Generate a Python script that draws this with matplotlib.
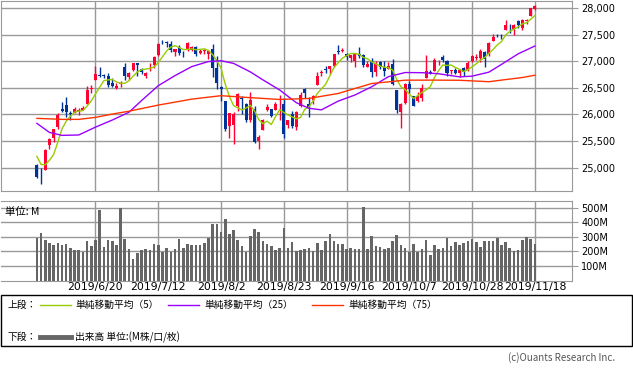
import numpy as np
import pandas as pd
import matplotlib
matplotlib.use('Agg')
import matplotlib.pyplot as plt
from matplotlib.lines import Line2D
from matplotlib.patches import Rectangle
from matplotlib.ticker import FuncFormatter

plt.rcParams['font.family'] = ['DejaVu Sans']
JP = ['Noto Sans CJK JP', 'DejaVu Sans']

# daily bars 2019/5/31 - 2019/11/18
opens = [25040, 24830, 24955, 25430, 25550, 25760, 26100, 26170, 26030, 26030,
         26060, 26090, 26200, 26470, 26650, 26740, 26730, 26730, 26600, 26500,
         26580, 26890, 26710, 26830, 26960, 26850, 26720, 26850, 26925, 27110,
         27360, 27360, 27330, 27180, 27250, 27180, 27210, 27220, 27270, 27160,
         27190, 27130, 27240, 26870, 26510, 26250, 25780, 25800, 26150, 26300,
         26200, 25900, 26100, 25500, 25700, 26080, 26100, 26090, 26250, 26200,
         25800, 26000, 25760, 26150, 26470, 26200, 26270, 26560, 26770, 26850,
         26850, 26910, 27200, 27200, 27140, 27070, 27000, 27140, 27110, 26900,
         27000, 26800, 26980, 26900, 26850, 26940, 26450, 26050, 26210, 26570,
         26350, 26260, 26300, 26680, 26800, 26820, 27000, 27080, 27000, 26820,
         26840, 26780, 26880, 26840, 27000, 27060, 27060, 27175, 27140, 27380,
         27500, 27500, 27580, 27690, 27600, 27760, 27620, 27760, 27850, 27980]
highs = [25060, 24990, 25340, 25560, 25730, 26020, 26240, 26320, 26060, 26140,
         26120, 26160, 26540, 26560, 26907, 26900, 26760, 26780, 26690, 26600,
         26620, 26970, 26790, 26970, 26970, 26880, 26800, 26960, 27100, 27340,
         27400, 27380, 27380, 27240, 27300, 27200, 27360, 27290, 27280, 27230,
         27230, 27210, 27320, 27100, 26530, 26250, 26030, 26040, 26400, 26340,
         26220, 26420, 26160, 25620, 25920, 26190, 26110, 26240, 26360, 26310,
         25900, 26060, 26070, 26420, 26500, 26330, 26360, 26800, 26830, 26920,
         26920, 27140, 27300, 27250, 27150, 27120, 27150, 27270, 27140, 27000,
         27070, 27000, 27010, 27000, 26990, 27050, 26460, 26210, 26600, 26620,
         26350, 26420, 26570, 27120, 26840, 27070, 27020, 27120, 27020, 26840,
         26880, 26840, 26900, 27000, 27120, 27130, 27230, 27190, 27370, 27510,
         27520, 27510, 27780, 27700, 27700, 27780, 27800, 27790, 28010, 28060]
lows = [24800, 24680, 24955, 25340, 25480, 25730, 26040, 25960, 25900, 26020,
        25980, 26080, 26190, 26400, 26640, 26700, 26690, 26520, 26520, 26480,
        26520, 26650, 26640, 26820, 26730, 26760, 26690, 26820, 26880, 27100,
        27330, 27270, 27180, 27100, 27120, 27080, 27200, 27200, 27100, 27130,
        27130, 27040, 26700, 26480, 26250, 25680, 25560, 25440, 26070, 26000,
        25850, 25850, 25460, 25340, 25700, 26060, 25950, 26080, 25900, 25550,
        25750, 25740, 25700, 26130, 26300, 25960, 26200, 26550, 26730, 26780,
        26760, 26900, 27140, 27170, 27020, 26990, 26900, 27060, 26900, 26900,
        26700, 26720, 26850, 26720, 26850, 26560, 26030, 25740, 26200, 26410,
        26150, 26240, 26260, 26680, 26760, 26820, 26930, 26980, 26720, 26760,
        26760, 26700, 26720, 26820, 26990, 27020, 26990, 26900, 27100, 27380,
        27460, 27410, 27580, 27540, 27500, 27630, 27590, 27700, 27850, 27960]
closes = [24815, 24819, 25332, 25540, 25720, 25984, 26062, 26048, 26004, 26107,
          26090, 26112, 26466, 26504, 26753, 26719, 26727, 26548, 26536, 26526,
          26600, 26717, 26787, 26966, 26922, 26806, 26783, 26860, 27088, 27332,
          27359, 27335, 27219, 27223, 27154, 27172, 27349, 27270, 27140, 27192,
          27221, 27198, 26864, 26583, 26485, 25718, 26030, 26008, 26379, 26287,
          25897, 26280, 25480, 25579, 25886, 26136, 25962, 26202, 26253, 25629,
          25898, 25778, 26036, 26363, 26403, 26118, 26355, 26728, 26797, 26835,
          26909, 27137, 27182, 27220, 27076, 27111, 27147, 27095, 26935, 26950,
          26807, 26970, 26891, 26820, 26917, 26573, 26079, 26201, 26573, 26478,
          26165, 26347, 26497, 26817, 26787, 27024, 27001, 27026, 26770, 26828,
          26788, 26834, 26806, 26958, 27091, 27071, 27186, 27046, 27347, 27462,
          27492, 27493, 27675, 27681, 27691, 27691, 27784, 27782, 28005, 28036]
prior_closes = [25586, 25348, 25126, 25170]  # closes before 5/31 for the 5-day average

volume = [295, 330, 279, 261, 245, 261, 245, 252, 226, 210,
          210, 197, 272, 238, 279, 486, 233, 279, 272, 245,
          502, 286, 217, 148, 192, 210, 217, 210, 252, 245,
          197, 224, 197, 217, 286, 224, 252, 245, 245, 245,
          259, 295, 390, 390, 334, 424, 320, 348, 279, 238,
          197, 307, 355, 334, 272, 252, 238, 210, 224, 362,
          224, 266, 203, 210, 217, 224, 203, 259, 210, 272,
          320, 272, 252, 252, 217, 224, 217, 217, 507, 217,
          307, 238, 231, 217, 224, 272, 314, 245, 224, 197,
          252, 197, 217, 279, 176, 245, 217, 224, 293, 238,
          266, 245, 259, 272, 286, 266, 231, 272, 272, 272,
          293, 245, 266, 224, 203, 210, 279, 300, 286, 252]

# moving averages at a few bars
ma25_idx = [0, 3, 6, 10, 14, 18, 22, 25, 29, 33, 37, 41, 44, 47, 51, 54, 58, 62, 65,
            68, 72, 76, 80, 84, 88, 92, 96, 101, 104, 108, 111, 115, 119]
ma25_val = [25831, 25660, 25605, 25612, 25760, 25893, 26040, 26260, 26540, 26730,
            26900, 26995, 27010, 26960, 26800, 26650, 26460, 26220, 26115, 26085,
            26250, 26365, 26520, 26710, 26788, 26785, 26765, 26706, 26720, 26795,
            26940, 27140, 27287]
ma75_idx = [0, 6, 10, 14, 18, 22, 29, 37, 44, 50, 58, 65, 72, 80, 88, 95, 101, 108,
            112, 116, 119]
ma75_val = [25925, 25906, 25906, 25944, 26006, 26060, 26175, 26287, 26352, 26320,
            26281, 26300, 26394, 26581, 26644, 26645, 26642, 26615, 26655, 26694, 26737]

tick_idx = [14, 29, 44, 59, 74, 89, 104, 119]
tick_labels = ['2019/6/20', '2019/7/12', '2019/8/2', '2019/8/23',
               '2019/9/16', '2019/10/7', '2019/10/28', '2019/11/18']

UP = '#ff0033'
DOWN = '#003399'
GRID = '#999999'

W, H = 633, 376
fig = plt.figure(figsize=(W / 100, H / 100), dpi=100)

def px_axes(x0, y0, x1, y1):
    return fig.add_axes([x0 / W, 1 - y1 / H, (x1 - x0) / W, (y1 - y0) / H])

ax = px_axes(0.5, 0.5, 571.7, 190.5)
axv = px_axes(0.5, 201, 571.7, 280.5)

x = np.arange(len(closes))
o = np.array(opens); h = np.array(highs); l = np.array(lows); c = np.array(closes)
col = np.where(c >= o, UP, DOWN)

ax.vlines(x, l, h, colors=col, lw=1, zorder=3)
ax.bar(x, np.maximum(np.abs(c - o), 8), bottom=np.minimum(o, c), width=0.72,
       color=col, zorder=3)

ma5 = pd.Series(prior_closes + closes).rolling(5).mean().values[len(prior_closes):]
ax.plot(x, ma5, color='#99cc00', lw=1, zorder=4)
ax.plot(ma25_idx, ma25_val, color='#9900ff', lw=1, zorder=4)
ax.plot(ma75_idx, ma75_val, color='#ff3300', lw=1, zorder=4)

axv.bar(x, volume, width=0.62, color='#666666', zorder=3)

for a in (ax, axv):
    a.set_xlim(-8.7, 127.8)
    a.set_xticks(tick_idx)
    a.grid(True, color=GRID, lw=1)
    a.set_axisbelow(True)
    a.yaxis.tick_right()
    a.tick_params(axis='y', length=4, color=GRID, labelsize=7, pad=3)
    a.tick_params(axis='x', length=0)
    for s in a.spines.values():
        s.set_color(GRID)

ax.set_ylim(24567, 28144)
ax.set_yticks([25000, 25500, 26000, 26500, 27000, 27500, 28000])
ax.yaxis.set_major_formatter(FuncFormatter(lambda v, p: f'{int(v):,}'))
ax.set_xticklabels([])

axv.set_ylim(0, 548)
axv.set_yticks([100, 200, 300, 400, 500])
axv.yaxis.set_major_formatter(FuncFormatter(lambda v, p: f'{int(v)}M'))
axv.set_xticklabels(tick_labels, fontsize=7.8)
axv.tick_params(axis='x', pad=1)
axv.spines['left'].set_visible(False)
axv.text(0.008, 0.86, '単位: M', transform=axv.transAxes, fontsize=7.5,
         family=JP, va='center', ha='left', zorder=5)

# legend box
fig.add_artist(Rectangle((0.5 / W, 1 - 346 / H), 631.5 / W, 51 / H, fill=False,
                         edgecolor='black', lw=1, transform=fig.transFigure))

def ftext(px, py, s, **kw):
    fig.text(px / W, 1 - py / H, s, va='center', family=JP, **kw)

def fline(x0, x1, py, **kw):
    fig.add_artist(Line2D([x0 / W, x1 / W], [1 - py / H] * 2,
                          transform=fig.transFigure, **kw))

ftext(8, 305, '上段：', fontsize=7)
fline(40, 71, 305, color='#99cc00', lw=1)
ftext(75, 305, '単純移動平均（5）', fontsize=7)
fline(168, 199, 305, color='#9900ff', lw=1)
ftext(204, 305, '単純移動平均（25）', fontsize=7)
fline(312, 343, 305, color='#ff3300', lw=1)
ftext(348, 305, '単純移動平均（75）', fontsize=7)

ftext(8, 337, '下段：', fontsize=7)
fline(40, 71, 337, color='#666666', lw=3.5)
ftext(75, 337, '出来高 単位:(M株/口/枚)', fontsize=7)

ftext(615, 358, '(c)Ouants Research Inc.', fontsize=7, ha='right', color='#555555')

fig.savefig('out.png', dpi=100)
